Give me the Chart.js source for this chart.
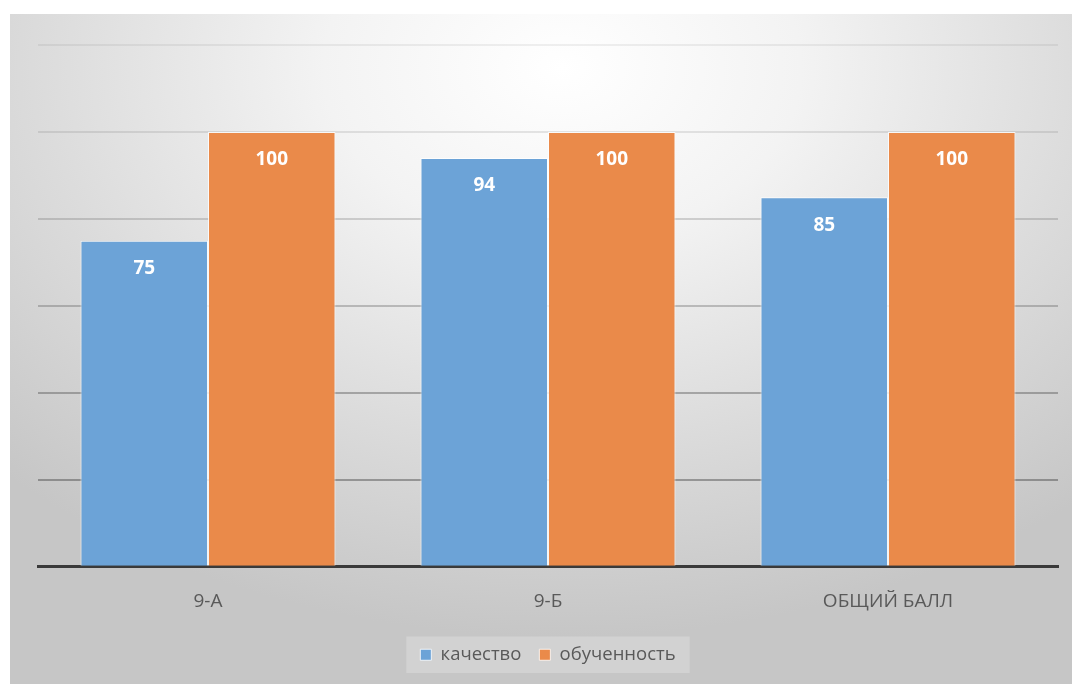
<!DOCTYPE html>
<html>
<head>
<meta charset="utf-8">
<script src="https://cdn.jsdelivr.net/npm/chart.js@4.4.1/dist/chart.umd.min.js"></script>
<style>
    body { margin: 0; background: #fff; }
    #panel {
        position: absolute; left: 10px; top: 14px; width: 1062px; height: 670px;
        background: radial-gradient(ellipse 75% 85% at 52% 8%, #ffffff 0%, #f3f3f3 30%, #dcdcdc 65%, #c6c6c6 100%);
    }
    canvas { display: block; }
</style>
</head>
<body>
<div id="panel"><canvas id="chart" width="1062" height="670"></canvas></div>
<script>
const categories = ['9-А', '9-Б', 'ОБЩИЙ БАЛЛ']
const quality = [75, 94, 85]
const learning = [100, 100, 100]
const seriesNames = ['качество', 'обученность']

const gridAlpha = [0, 0.42, 0.36, 0.28, 0.2, 0.12, 0.08]
const font = '"Open Sans", "DejaVu Sans", sans-serif'

// white bold values inside the bars
const valueLabels = {
    id: 'valueLabels',
    afterDraw(chart) {
        let ctx = chart.ctx
        ctx.save()
        ctx.fillStyle = '#ffffff'
        ctx.font = 'bold 19px ' + font
        ctx.textAlign = 'center'
        ctx.textBaseline = 'middle'
        chart.data.datasets.forEach((ds, i) => {
            chart.getDatasetMeta(i).data.forEach((bar, j) => {
                ctx.fillText(ds.data[j], bar.x, bar.y + 28)
            })
        })
        ctx.restore()
    }
}

// lighter box behind the legend
const legendBox = {
    id: 'legendBox',
    beforeDraw(chart) {
        let boxes = chart.legend.legendHitBoxes
        if (!boxes || !boxes.length) return
        let first = boxes[0]
        let last = boxes[boxes.length - 1]
        let ctx = chart.ctx
        ctx.save()
        ctx.fillStyle = 'rgba(255,255,255,0.22)'
        ctx.fillRect(first.left - 14, first.top - 9, last.left + last.width - first.left + 28, first.height + 18)
        ctx.restore()
    }
}

new Chart(document.getElementById('chart'), {
    type: 'bar',
    data: {
        labels: categories,
        datasets: [{
            label: seriesNames[0],
            data: quality,
            backgroundColor: '#6ca3d7',
            borderColor: 'rgba(255,255,255,0.8)',
            borderWidth: 1,
            categoryPercentage: 0.75,
            barPercentage: 1
        }, {
            label: seriesNames[1],
            data: learning,
            backgroundColor: '#ea8a4a',
            borderColor: 'rgba(255,255,255,0.8)',
            borderWidth: 1,
            categoryPercentage: 0.75,
            barPercentage: 1
        }]
    },
    options: {
        responsive: false,
        animation: false,
        layout: { padding: { left: 28, right: 14, top: 31, bottom: 10 } },
        scales: {
            x: {
                grid: { display: false },
                border: { color: '#3a3a3a', width: 3 },
                ticks: { color: '#595959', font: { family: font, size: 19 }, padding: 15 }
            },
            y: {
                min: 0,
                max: 120,
                z: 1,
                ticks: { display: false, stepSize: 20 },
                border: { display: false },
                grid: {
                    lineWidth: 2,
                    drawTicks: false,
                    color: (c) => 'rgba(60,60,60,' + gridAlpha[c.index] + ')'
                }
            }
        },
        plugins: {
            tooltip: { enabled: false },
            legend: {
                position: 'bottom',
                labels: {
                    color: '#595959',
                    font: { family: font, size: 18.5 },
                    boxWidth: 11,
                    boxHeight: 11,
                    padding: 18
                }
            }
        }
    },
    plugins: [valueLabels, legendBox]
})
</script>
</body>
</html>
